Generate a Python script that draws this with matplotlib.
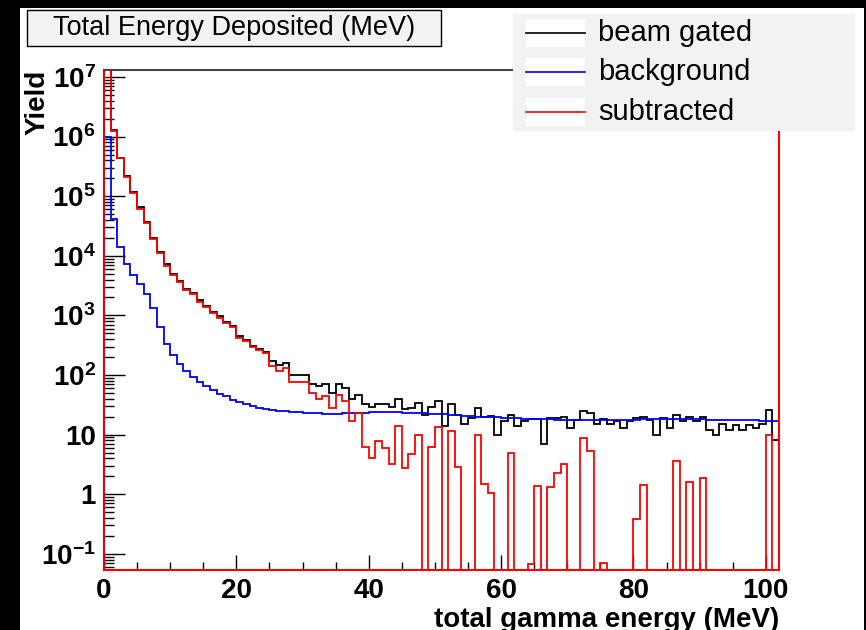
import numpy as np
import matplotlib
matplotlib.use("Agg")
import matplotlib.pyplot as plt
from matplotlib.patches import Rectangle
from matplotlib.lines import Line2D
from matplotlib.ticker import FixedLocator, LogLocator, MultipleLocator, NullFormatter

plt.rcParams['font.family'] = ['Liberation Sans', 'DejaVu Sans']
plt.rcParams['mathtext.fontset'] = 'custom'
plt.rcParams['mathtext.rm'] = 'Liberation Sans:bold'
plt.rcParams['mathtext.it'] = 'Liberation Sans:bold'
plt.rcParams['mathtext.bf'] = 'Liberation Sans:bold'

# 1 MeV bins, 0..102 MeV
bin_edges = np.arange(0, 103)

beam_gated = [
    2.0e7, 1.30e6, 4.45e5, 2.15e5, 1.17e5, 6.5e4, 3.7e4, 2.0e4, 1.16e4, 7.2e3,
    5.0e3, 3.85e3, 2.82e3, 2.36e3, 1.78e3, 1.43e3, 1.16e3, 970, 780, 670,
    450, 386, 310, 275, 245, 174, 147, 157, 100, 100,
    100, 72, 65, 70, 50, 70, 60, 39, 47, 32,
    29.6, 32, 32, 29.6, 39, 27, 28, 34, 21, 29.6,
    36, 13.8, 32, 21, 15, 19, 28, 20, 20.5, 10,
    17, 21, 14, 16.6, 18.5, 18.3, 6.9, 18.7, 18.7, 20,
    13, 17.6, 25, 23, 15, 18, 15, 17, 13, 16.6,
    18.7, 19.5, 17.6, 10, 18.7, 13, 21.4, 17, 19.5, 17,
    19.5, 12, 10, 15, 12, 14.5, 12, 14.5, 13, 15,
    26, 8,
]

background = [
    1.0e6, 4.1e4, 1.42e4, 7.3e3, 4.8e3, 3.4e3, 2.26e3, 1.32e3, 650, 327,
    217, 153, 117, 94, 77, 65, 56, 48, 44, 38.5,
    35, 32.5, 30, 28, 26.7, 26.3, 25.2, 24.5, 23.5, 23.5,
    23, 23, 22.8, 22.5, 22.5, 22.2, 22.8, 23, 23, 23.3,
    23.5, 23.5, 23.6, 23.5, 23.5, 23.4, 23.3, 23, 22.7, 22.5,
    22.3, 21.8, 21.5, 21, 20.6, 20.3, 20, 19.8, 19.6, 19.4,
    19.2, 19, 18.8, 18.6, 18.4, 18.2, 18, 18, 17.8, 17.7,
    17.6, 17.6, 17.5, 17.5, 17.4, 17.6, 17.5, 17.4, 17.4, 17.6,
    17.8, 18, 18.2, 18.2, 18.3, 18.2, 18.2, 18.2, 18.2, 18.1,
    18, 17.6, 17.5, 17.5, 17.5, 17.4, 17.4, 17.3, 17.3, 17.2,
    17, 17,
]

subtracted = [
    1.9e7, 1.26e6, 4.3e5, 2.07e5, 1.12e5, 6.2e4, 3.5e4, 1.9e4, 1.1e4, 6.8e3,
    4.8e3, 3.7e3, 2.7e3, 2.26e3, 1.7e3, 1.37e3, 1.1e3, 920, 735, 630,
    423, 372, 290, 263, 231, 141, 118, 129, 77, 77,
    77, 50, 39, 45, 27.6, 46, 36, 16.6, 23, 6.3,
    4.1, 7.9, 6.0, 3.2, 13.9, 2.8, 4.7, 10, 0, 6.3,
    13.6, 0, 11.5, 2.9, 0, 0, 9.8, 1.48, 1.06, 0,
    0, 4.85, 0, 0, 0.068, 1.37, 0, 1.34, 2.3, 3.2,
    0, 0, 8.7, 5.3, 0, 0.07, 0, 0, 0, 0,
    0.38, 1.43, 0, 0, 0, 0, 3.6, 0, 1.6, 0,
    1.9, 0, 0, 0, 0, 0, 0, 0, 0, 0,
    10, 0,
]

ymin, ymax = 0.0535, 1.31e7
y_ticks = [1e-1, 1, 10, 1e2, 1e3, 1e4, 1e5, 1e6, 1e7]
y_tick_labels = ['$10^{-1}$', '1', '10', '$10^{2}$', '$10^{3}$', '$10^{4}$',
                 '$10^{5}$', '$10^{6}$', '$10^{7}$']

W, H = 866, 630
fig = plt.figure(figsize=(W / 100, H / 100), dpi=100)
fig.patch.set_facecolor('black')


def fx(px):
    return px / W


def fy(py):
    return 1 - py / H


# white pad
fig.patches.append(Rectangle((fx(20), 0), fx(864) - fx(20), fy(8), transform=fig.transFigure,
                             facecolor='white', edgecolor='none', zorder=-5))

ax = fig.add_axes([fx(104), fy(570), fx(779) - fx(104), fy(70) - fy(570)])
ax.set_facecolor('white')

ax.stairs(beam_gated, bin_edges, color='black', lw=1.3, zorder=3)
ax.stairs(background, bin_edges, color='#0000ff', lw=1.3, zorder=4)
ax.stairs(np.clip(subtracted, ymin, None), bin_edges, color='#ff0000', lw=1.3, zorder=5)

ax.set_yscale('log')
ax.set_xlim(0, 102)
ax.set_ylim(ymin, ymax)

ax.yaxis.set_major_locator(FixedLocator(y_ticks))
ax.set_yticklabels(y_tick_labels)
ax.yaxis.set_minor_locator(LogLocator(base=10, subs=np.arange(2, 10)))
ax.yaxis.set_minor_formatter(NullFormatter())
ax.xaxis.set_major_locator(MultipleLocator(20))
ax.xaxis.set_minor_locator(MultipleLocator(5))

ax.tick_params(axis='y', which='major', direction='in', length=15, width=1, pad=6, labelsize=20)
ax.tick_params(axis='y', which='minor', direction='in', length=7.5, width=1)
ax.tick_params(axis='x', which='major', direction='in', length=11, width=1, pad=6, labelsize=20)
ax.tick_params(axis='x', which='minor', direction='in', length=5.5, width=1)
for lab in ax.get_xticklabels() + ax.get_yticklabels():
    lab.set_fontweight('bold')

for s in ['top', 'left']:
    ax.spines[s].set_color('#444444')
    ax.spines[s].set_linewidth(1.5)
for s in ['bottom', 'right']:
    ax.spines[s].set_color('#ff0000')
    ax.spines[s].set_linewidth(1.5)
    ax.spines[s].set_zorder(6)

fig.text(fx(38), fy(70), 'Yield', rotation=90, ha='center', va='top',
         fontsize=20, fontweight='bold')
fig.text(fx(779), fy(627), 'total gamma energy (MeV)', ha='right', va='baseline',
         fontsize=20, fontweight='bold')

# title box
fig.patches.append(Rectangle((fx(27), fy(46)), fx(441) - fx(27), fy(10) - fy(46),
                             transform=fig.transFigure, facecolor='#f2f2f2',
                             edgecolor='black', lw=1, zorder=7))
fig.text(fx(234), fy(28), 'Total Energy Deposited (MeV)', ha='center', va='center',
         fontsize=19.5, zorder=8)

# legend
fig.patches.append(Rectangle((fx(513), fy(131)), fx(855) - fx(513), fy(14) - fy(131),
                             transform=fig.transFigure, facecolor='#f2f2f2',
                             edgecolor='none', zorder=7))
legend_items = [('beam gated', 'black', 33), ('background', '#0000ff', 72),
                ('subtracted', '#ff0000', 112)]
for name, col, yc in legend_items:
    fig.patches.append(Rectangle((fx(526), fy(yc + 14)), fx(585) - fx(526), fy(yc - 14) - fy(yc + 14),
                                 transform=fig.transFigure, facecolor='white',
                                 edgecolor='none', zorder=8))
    fig.lines.append(Line2D([fx(526), fx(585)], [fy(yc), fy(yc)], transform=fig.transFigure,
                            color=col, lw=1.2, zorder=9))
    fig.text(fx(598), fy(yc), name, ha='left', va='center', fontsize=21, zorder=9)

fig.savefig('out.png', dpi=100, facecolor=fig.get_facecolor())
